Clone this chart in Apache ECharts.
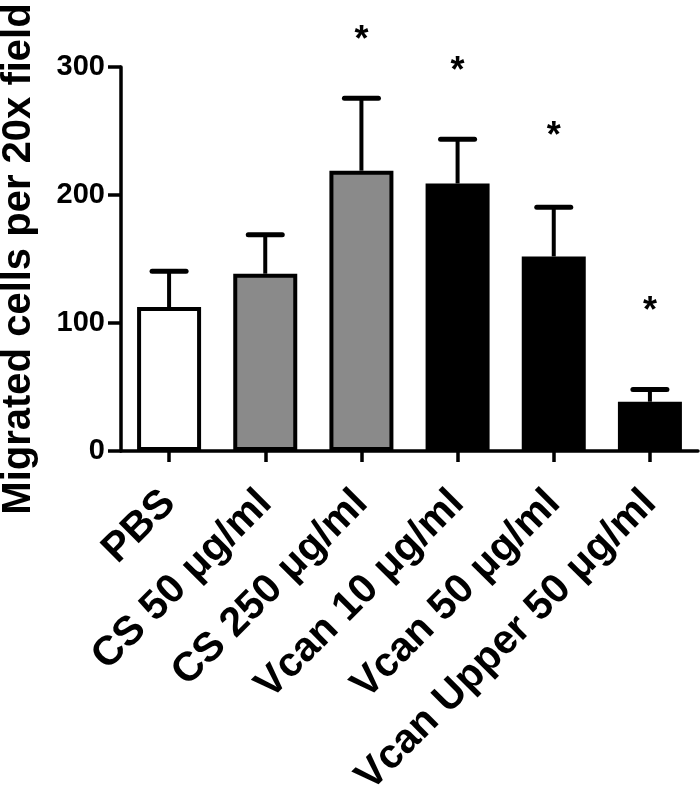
<!DOCTYPE html>
<html>
<head>
<meta charset="utf-8">
<script src="https://cdn.jsdelivr.net/npm/echarts@6/dist/echarts.min.js"></script>
<style>
  html, body { margin: 0; padding: 0; background: #fff; }
  #chart { width: 700px; height: 794px; }
</style>
</head>
<body>
<div id="chart"></div>
<script>
// ---- data ----
var categories = ['PBS', 'CS 50 μg/ml', 'CS 250 μg/ml', 'Vcan 10 μg/ml', 'Vcan 50 μg/ml', 'Vcan Upper 50 μg/ml'];
var meanValues = [112.5, 138.5, 219, 209, 152, 38.5];
var errorUpper = [140.5, 169, 275.5, 243.5, 190.5, 48];
var starValues = [null, null, 327, 303, 252, 115.5];
var barColors = ['#ffffff', '#8a8a8a', '#8a8a8a', '#000000', '#000000', '#000000'];
var yTicks = [0, 100, 200, 300];
var yTitle = 'Migrated cells per 20x field';

var FONT = '"Liberation Sans", Arial, Helvetica, sans-serif';

var chart = echarts.init(document.getElementById('chart'), null, { renderer: 'canvas' });

var option = {
  animation: false,
  backgroundColor: '#ffffff',
  grid: { left: 121, right: 2, top: 67, bottom: 343, containLabel: false, outerBoundsMode: 'none' },
  xAxis: {
    type: 'category',
    data: categories,
    boundaryGap: true,
    axisLine: { show: true, lineStyle: { color: '#000', width: 3.5 } },
    axisTick: { show: true, alignWithLabel: true, length: 11, lineStyle: { color: '#000', width: 3.5 } },
    axisLabel: {
      interval: 0,
      rotate: 45,
      margin: 46,
      verticalAlign: 'middle',
      color: '#000',
      fontFamily: FONT,
      fontWeight: 'bold',
      fontSize: 41
    }
  },
  yAxis: {
    type: 'value',
    min: yTicks[0],
    max: yTicks[yTicks.length - 1],
    interval: 100,
    name: yTitle,
    nameLocation: 'middle',
    nameRotate: 90,
    nameGap: 82,
    nameTextStyle: { color: '#000', fontFamily: FONT, fontWeight: 'bold', fontSize: 40 },
    axisLine: { show: true, lineStyle: { color: '#000', width: 3.5 } },
    axisTick: { show: true, length: 13, lineStyle: { color: '#000', width: 3.5 } },
    axisLabel: { margin: 16, color: '#000', fontFamily: FONT, fontWeight: 'bold', fontSize: 29 },
    splitLine: { show: false }
  },
  series: [
    {
      type: 'bar',
      barWidth: 64,
      data: meanValues.map(function (v, i) {
        return { value: v, itemStyle: { color: barColors[i] } };
      }),
      itemStyle: { borderColor: '#000', borderWidth: 4 },
      z: 2
    },
    {
      type: 'custom',
      z: 3,
      clip: false,
      data: meanValues.map(function (v, i) { return [i, v, errorUpper[i]]; }),
      renderItem: function (params, api) {
        var base = api.coord([api.value(0), api.value(1)]);
        var top = api.coord([api.value(0), api.value(2)]);
        var half = 17;
        return {
          type: 'group',
          children: [
            { type: 'line', shape: { x1: base[0], y1: base[1], x2: top[0], y2: top[1] },
              style: { stroke: '#000', lineWidth: 4 } },
            { type: 'line', shape: { x1: top[0] - half, y1: top[1], x2: top[0] + half, y2: top[1] },
              style: { stroke: '#000', lineWidth: 5, lineCap: 'round' } }
          ]
        };
      }
    },
    {
      type: 'custom',
      z: 4,
      clip: false,
      data: starValues.map(function (v, i) { return [i, v]; }).filter(function (d) { return d[1] != null; }),
      renderItem: function (params, api) {
        var p = api.coord([api.value(0), api.value(1)]);
        return {
          type: 'text',
          style: {
            text: '*',
            x: p[0],
            y: p[1] + 9,
            align: 'center',
            verticalAlign: 'middle',
            fill: '#000',
            font: 'bold 36px ' + FONT
          }
        };
      }
    }
  ]
};

chart.setOption(option);
</script>
</body>
</html>
